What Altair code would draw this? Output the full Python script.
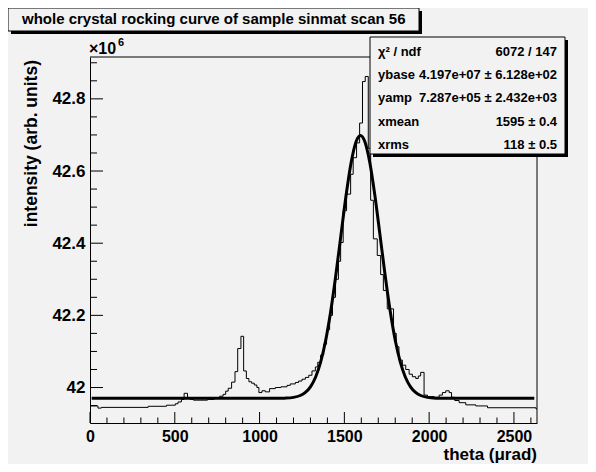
import altair as alt
import pandas as pd

# ---------------- data ----------------
hist_x = [0, 47, 67, 343, 451, 503, 519, 539, 555, 575, 591, 610, 693, 732, 765, 785,
          800, 815, 835, 855, 871, 890, 906, 922, 937, 953, 969, 984, 996, 1014, 1034,
          1059, 1093, 1126, 1162, 1181, 1211, 1230, 1250, 1270, 1290, 1309, 1329, 1343,
          1360, 1378, 1395, 1413, 1430, 1448, 1465, 1478, 1493, 1513, 1537, 1552, 1572,
          1590, 1607, 1623, 1641, 1655, 1671, 1694, 1714, 1730, 1753, 1790, 1806, 1822,
          1842, 1862, 1882, 1901, 1921, 1936, 1950, 1970, 1990, 2029, 2059, 2078, 2098,
          2118, 2132, 2151, 2177, 2216, 2275, 2344, 2630, 2636]
hist_y = [41.949, 41.943, 41.945, 41.948, 41.951, 41.955, 41.960, 41.967, 41.984, 41.970,
          41.967, 41.965, 41.967, 41.970, 41.976, 41.981, 41.990, 41.998, 42.015, 42.044,
          42.108, 42.142, 42.046, 42.025, 42.016, 42.012, 42.007, 42.000, 41.986, 41.991,
          41.988, 41.997, 42.000, 42.002, 42.006, 42.010, 42.014, 42.018, 42.023, 42.028,
          42.034, 42.046, 42.057, 42.070, 42.090, 42.120, 42.160, 42.200, 42.250, 42.300,
          42.350, 42.402, 42.490, 42.536, 42.591, 42.637, 42.678, 42.733, 42.848, 42.862,
          42.663, 42.519, 42.412, 42.366, 42.313, 42.269, 42.218, 42.150, 42.113, 42.076,
          42.062, 42.050, 42.037, 42.030, 42.025, 42.032, 42.042, 41.979, 41.975, 41.973,
          41.979, 41.986, 41.991, 41.986, 41.973, 41.964, 41.958, 41.952, 41.949, 41.944,
          41.941, 41.941]

fit_x = [10, 1000, 1100, 1150, 1200, 1240, 1270, 1300, 1330, 1360, 1390, 1420, 1450,
         1480, 1510, 1540, 1570, 1595, 1620, 1650, 1680, 1710, 1740, 1770, 1800, 1830,
         1860, 1890, 1920, 1950, 1990, 2040, 2100, 2620]
fit_y = [41.970, 41.970, 41.970, 41.9706, 41.9727, 41.9779, 41.9864, 42.002, 42.0285,
         42.0703, 42.1311, 42.2126, 42.3125, 42.4232, 42.5322, 42.6237, 42.6825, 42.6987,
         42.6825, 42.6237, 42.5322, 42.4232, 42.3125, 42.2126, 42.1311, 42.0703, 42.0285,
         42.002, 41.9864, 41.9779, 41.9727, 41.9706, 41.970, 41.970]

y_major = [42.0, 42.2, 42.4, 42.6, 42.8]
y_minor = [41.95, 42.05, 42.1, 42.15, 42.25, 42.3, 42.35, 42.45, 42.5, 42.55,
           42.65, 42.7, 42.75, 42.85, 42.9]
x_major = [0, 500, 1000, 1500, 2000, 2500]
x_minor = [100, 200, 300, 400, 600, 700, 800, 900, 1100, 1200, 1300, 1400, 1600,
           1700, 1800, 1900, 2100, 2200, 2300, 2400, 2600]

stat_names = ["χ² / ndf", "ybase", "yamp", "xmean", "xrms"]
stat_values = ["6072 / 147", "4.197e+07 ± 6.128e+02", "7.287e+05 ± 2.432e+03",
               "1595 ± 0.4", "118 ± 0.5"]
title_text = "whole crystal rocking curve of sample sinmat scan 56"
x_title = "theta (μrad)"
y_title = "intensity (arb. units)"
exp_base = "×10"
exp_power = "6"

# ---------------- layout ----------------
W, H = 447, 366
FONT = "Liberation Sans"
BG = "#f2f2f2"

xscale = alt.Scale(domain=[0, 2636], nice=False, zero=False)
yscale = alt.Scale(domain=[41.9017, 42.916], nice=False, zero=False)
xaxis = alt.Axis(values=x_major, format="d", ticks=False, tickSize=0, grid=False,
                 labelPadding=5, labelFont=FONT, labelFontSize=16,
                 labelFontWeight="bold", labelColor="black", labelFlush=False,
                 labelOverlap=False, domainColor="black", title=None)
yaxis = alt.Axis(values=y_major, format=".1~f", ticks=False, tickSize=0, grid=False,
                 labelPadding=5, labelFont=FONT, labelFontSize=17,
                 labelFontWeight="bold", labelColor="black", labelFlush=False,
                 labelOverlap=False, domainColor="black", title=None)

hist_df = pd.DataFrame({"x": hist_x, "y": hist_y})
fit_df = pd.DataFrame({"x": fit_x, "y": fit_y})
one = pd.DataFrame({"a": [0]})

X = alt.X("x:Q", scale=xscale, axis=xaxis)
Y = alt.Y("y:Q", scale=yscale, axis=yaxis)

hist = alt.Chart(hist_df).mark_line(interpolate="step-after", color="black",
                                     strokeWidth=1).encode(x=X, y=Y)
fit = alt.Chart(fit_df).mark_line(interpolate="monotone", color="black",
                                   strokeWidth=3).encode(x=X, y=Y)

ytick_major = alt.Chart(pd.DataFrame({"y": y_major})).mark_rule(color="black").encode(
    y=Y, x=alt.value(0), x2=alt.value(13))
ytick_minor = alt.Chart(pd.DataFrame({"y": y_minor})).mark_rule(color="black").encode(
    y=Y, x=alt.value(0), x2=alt.value(7))
xtick_major = alt.Chart(pd.DataFrame({"x": x_major})).mark_rule(color="black").encode(
    x=X, y=alt.value(H), y2=alt.value(H - 11))
xtick_minor = alt.Chart(pd.DataFrame({"x": x_minor})).mark_rule(color="black").encode(
    x=X, y=alt.value(H), y2=alt.value(H - 5.5))

frame_top = alt.Chart(one).mark_rule(color="black").encode(
    x=alt.value(0), x2=alt.value(W), y=alt.value(0))
frame_right = alt.Chart(one).mark_rule(color="black").encode(
    x=alt.value(W), y=alt.value(0), y2=alt.value(H))


def box(x0, y0, x1, y1, shadow=3):
    sh = alt.Chart(one).mark_rect(color="black").encode(
        x=alt.value(x0 + shadow), x2=alt.value(x1 + shadow),
        y=alt.value(y0 + shadow), y2=alt.value(y1 + shadow))
    bx = alt.Chart(one).mark_rect(fill=BG, stroke="black", strokeWidth=1).encode(
        x=alt.value(x0), x2=alt.value(x1), y=alt.value(y0), y2=alt.value(y1))
    return [sh, bx]


def text(s, x, y, size, align="left", angle=0, baseline="middle"):
    return alt.Chart(one).mark_text(text=s, font=FONT, fontSize=size, fontWeight="bold",
                                    color="black", align=align, baseline=baseline,
                                    angle=angle).encode(x=alt.value(x), y=alt.value(y))


layers = [hist, fit, ytick_major, ytick_minor, xtick_major, xtick_minor,
          frame_top, frame_right]
# title box
layers += box(-82, -49, 329, -26)
layers.append(text(title_text, -68, -38, 15))
# stats box
layers += box(280, -20, 475, 97)
row_y = [-5, 18, 41, 65, 88]
for name, val, ry in zip(stat_names, stat_values, row_y):
    layers.append(text(name, 288, ry, 13))
    layers.append(text(val, 467, ry, 13, align="right"))
# exponent
layers.append(text(exp_base, -1, -3, 16, baseline="alphabetic"))
layers.append(text(exp_power, 28, -11, 11, baseline="alphabetic"))
# axis titles
layers.append(text(x_title, W, 398, 17, align="right"))
layers.append(text(y_title, -58, 3, 17.5, align="right", angle=270))

chart = alt.layer(*layers).properties(
    width=W, height=H, autosize="none",
    padding={"left": 82, "top": 49, "right": 51, "bottom": 41},
    background=BG,
).configure_view(stroke=None)

chart.save("out.html", embed_options={"renderer": "svg", "actions": False})
